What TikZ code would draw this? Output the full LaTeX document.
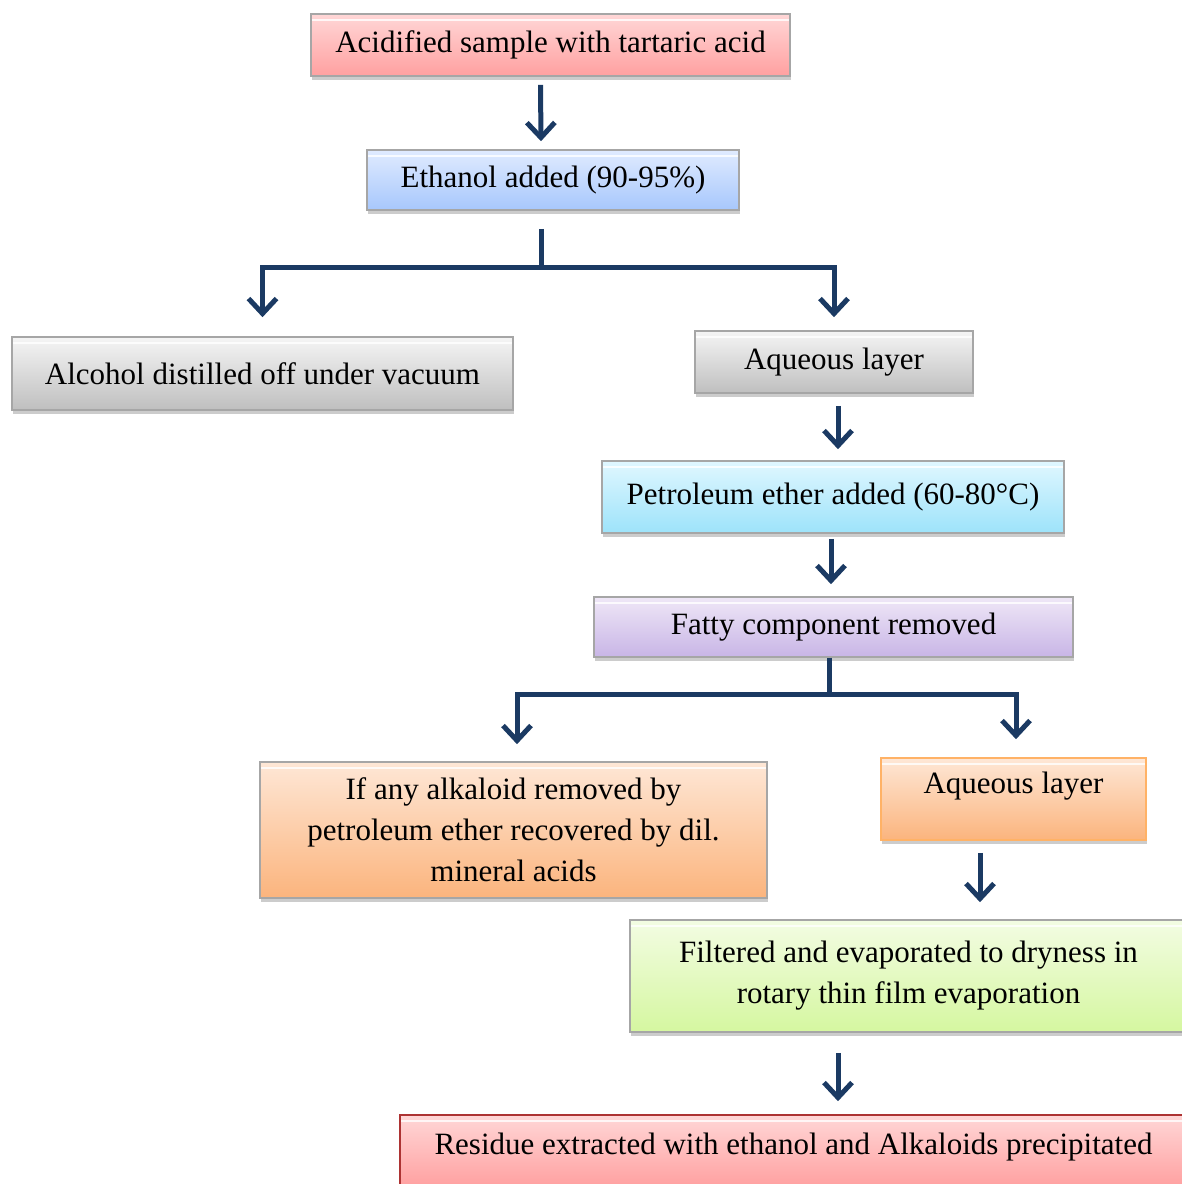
\documentclass[tikz,border=0pt]{standalone}
\usepackage{fontspec}
\setmainfont{Liberation Serif}
\usetikzlibrary{arrows.meta,shadows}

\definecolor{navy}{HTML}{1B3A63}
\definecolor{edge}{HTML}{A6A6A6}
\definecolor{pinkT}{HTML}{FFD7D7}\definecolor{pinkB}{HTML}{FFA0A0}
\definecolor{blueT}{HTML}{E0EBFF}\definecolor{blueB}{HTML}{A7C7FC}
\definecolor{grayT}{HTML}{F5F5F5}\definecolor{grayB}{HTML}{BFBFBF}
\definecolor{cyanT}{HTML}{E0F7FF}\definecolor{cyanB}{HTML}{9DE3FA}
\definecolor{violT}{HTML}{EFE7F7}\definecolor{violB}{HTML}{C8B5E6}
\definecolor{orngT}{HTML}{FEE7D6}\definecolor{orngB}{HTML}{FBB47D}
\definecolor{grenT}{HTML}{F3FCE3}\definecolor{grenB}{HTML}{D5F7A0}

\tikzset{
  stage/.style={rectangle, draw=edge, line width=1.6pt, inner sep=0pt,
    align=center, font=\fontsize{31}{41}\selectfont,
    drop shadow={shadow xshift=1pt, shadow yshift=-4pt, fill=black!40, opacity=0.5},
    path picture={\draw[white, opacity=0.8, line width=1.4pt]
      ([yshift=-6pt]path picture bounding box.north west) --
      ([yshift=-6pt]path picture bounding box.north east);}},
  pinkbox/.style={stage, top color=pinkT, bottom color=pinkB},
  bluebox/.style={stage, top color=blueT, bottom color=blueB},
  graybox/.style={stage, top color=grayT, bottom color=grayB},
  cyanbox/.style={stage, top color=cyanT, bottom color=cyanB},
  violetbox/.style={stage, top color=violT, bottom color=violB},
  orangebox/.style={stage, top color=orngT, bottom color=orngB},
  greenbox/.style={stage, top color=grenT, bottom color=grenB},
  trunk/.style={draw=navy, line width=5pt},
  flow/.style={trunk, -{Straight Barb[length=15pt, width=28pt]}},
}

\begin{document}
\begin{tikzpicture}[x=1pt, y=-1pt]
\useasboundingbox (0,0) rectangle (1182,1184);

% process stages
\node[pinkbox, minimum width=479pt, minimum height=62pt] (acid) at (550.5,45)
  {Acidified sample with tartaric acid};
\node[bluebox, minimum width=372pt, minimum height=60pt] (eth) at (553,180)
  {Ethanol added (90-95\%)};
\node[graybox, minimum width=501pt, minimum height=73pt] (alc) at (262.5,373.5)
  {Alcohol distilled off under vacuum};
\node[graybox, minimum width=278pt, minimum height=62pt] (aq1) at (834,362)
  {Aqueous layer};
\node[cyanbox, minimum width=462pt, minimum height=72pt] (pet) at (833,497)
  {Petroleum ether added (60-80°C)};
\node[violetbox, minimum width=479pt, minimum height=60pt] (fat) at (833.5,627)
  {Fatty component removed};
\node[orangebox, minimum width=507pt, minimum height=136pt] (alk) at (513.5,830)
  {If any alkaloid removed by\\ petroleum ether recovered by dil.\\ mineral acids};
\node[orangebox, draw=orange!60, minimum width=265pt, minimum height=82pt,
  text depth=32pt] (aq2) at (1013.5,799)
  {Aqueous layer};
\node[greenbox, minimum width=557pt, minimum height=112pt] (fil) at (908.5,976)
  {Filtered and evaporated to dryness in\\ rotary thin film evaporation};
\node[pinkbox, draw=red!60!black!80, minimum width=787pt, minimum height=72pt,
  text depth=14pt] (res) at (793.5,1151)
  {Residue extracted with ethanol and Alkaloids precipitated};

% straight steps
\draw[flow] ([xshift=-10pt, yshift=-8pt]acid.south) -- ([xshift=-12pt, yshift=8pt]eth.north);
\draw[flow] ([xshift=4pt, yshift=-12pt]aq1.south) -- ([xshift=5pt, yshift=11pt]pet.north);
\draw[flow] ([xshift=-2pt, yshift=-5pt]pet.south) -- ([xshift=-2.5pt, yshift=12pt]fat.north);
\draw[flow] ([xshift=-33.5pt, yshift=-12pt]aq2.south) -- ([xshift=-33.5pt, yshift=17pt]aq2.south |- fil.north);
\draw[flow] ([xshift=-70.5pt, yshift=-20pt]fil.south) -- ([xshift=-70.5pt, yshift=13pt]fil.south |- res.north);

% first branching
\coordinate (j1) at (541,267);
\draw[trunk] ([xshift=-12pt, yshift=-18pt]eth.south) -- (j1);
\draw[flow] (j1) -| ([yshift=19pt]alc.north);
\draw[flow] (j1) -| ([yshift=13pt]aq1.north);

% second branching
\coordinate (j2) at (829,694);
\draw[trunk] ([xshift=-4.5pt]fat.south) -- (j2);
\draw[flow] (j2) -| ([xshift=3.5pt, yshift=17pt]alk.north);
\draw[flow] (j2) -| ([xshift=2.5pt, yshift=18pt]aq2.north);
\end{tikzpicture}
\end{document}
